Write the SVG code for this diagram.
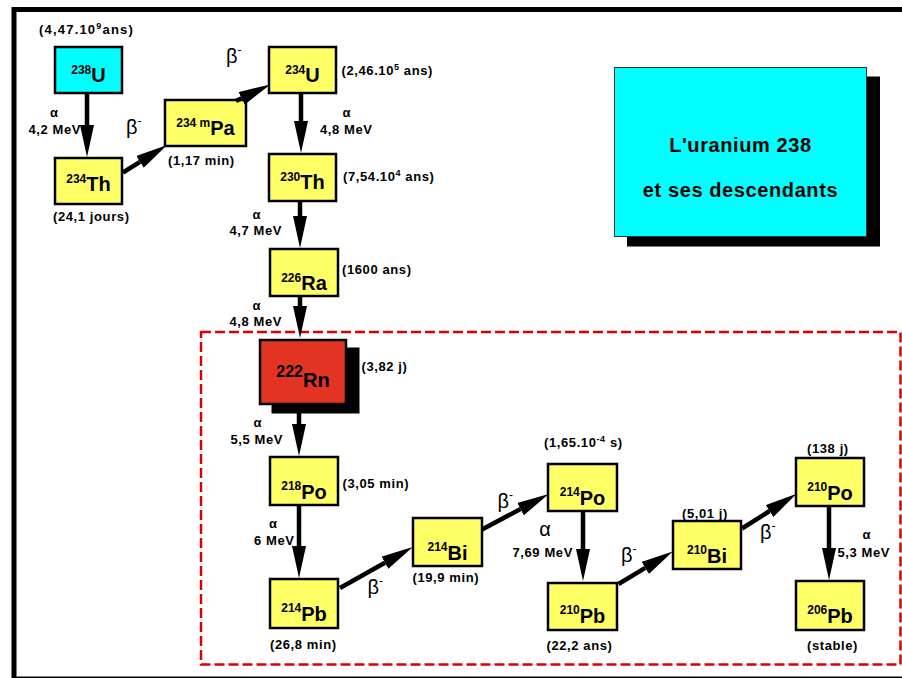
<svg xmlns="http://www.w3.org/2000/svg" width="902" height="678" viewBox="0 0 902 678">
<defs>
<style>
text{font-family:"Liberation Sans",Arial,Helvetica,sans-serif;fill:#000}
.box{stroke:#000;stroke-width:2.5;fill:#FFFF66}
.cy{fill:#00FFFF}
.rn{fill:#E33322}
.nm{font-size:20px;font-weight:bold;text-anchor:middle}
.sup{font-size:12px}
.hl{font-size:13px;font-weight:bold;letter-spacing:0.6px}
.wide{letter-spacing:1.2px}
.hs{font-size:9px}
.al{font-size:13px;font-weight:bold;text-anchor:middle}
.me{font-size:13px;font-weight:bold;letter-spacing:0.6px}
.be{font-size:20px}
.bm{font-size:12px}
.ar{stroke:#000;stroke-width:4.5;fill:none;marker-end:url(#ah)}
</style>
<marker id="ah" viewBox="0 -7 32 14" refX="0" refY="0" markerWidth="32" markerHeight="14" markerUnits="userSpaceOnUse" orient="auto">
<path d="M0,-7 L32,0 L0,7 Z" fill="#000"/>
</marker>
</defs>
<rect x="0" y="0" width="902" height="678" fill="#fff"/>
<rect x="14" y="9.5" width="900" height="669.5" fill="none" stroke="#000" stroke-width="5"/>
<rect x="201" y="332" width="699.5" height="332.5" fill="none" stroke="#DD0000" stroke-width="2.5" stroke-dasharray="10 4"/>

<g id="title">
<rect x="627" y="76.5" width="253" height="170" fill="#000"/>
<rect x="614.5" y="67.5" width="252" height="169" fill="#00FFFF" stroke="#333" stroke-width="1"/>
<text x="740.5" y="152" font-size="20" font-weight="bold" text-anchor="middle" letter-spacing="0.6">L'uranium 238</text>
<text x="740.5" y="197" font-size="20" font-weight="bold" text-anchor="middle" letter-spacing="0.6">et ses descendants</text>
</g>

<g id="n-U238">
<rect class="box cy" x="55" y="47" width="67" height="46" stroke-width="2"/>
<text class="nm" x="88.5" y="82"><tspan class="sup" dy="-8">238</tspan><tspan dy="8">U</tspan></text>
<text class="hl wide" x="39" y="34">(4,47.10<tspan class="hs" dy="-5">9</tspan><tspan dy="5">ans)</tspan></text>
</g>
<g id="n-Th234">
<rect class="box" x="55" y="158" width="67" height="46"/>
<text class="nm" x="88.5" y="191"><tspan class="sup" dy="-8">234</tspan><tspan dy="8">Th</tspan></text>
<text class="hl" x="53" y="221">(24,1 jours)</text>
</g>
<g id="n-Pa234m">
<rect class="box" x="165" y="100" width="81" height="46"/>
<text class="nm" x="205.5" y="135"><tspan class="sup" dy="-8">234 m</tspan><tspan dy="8">Pa</tspan></text>
<text class="hl" x="168" y="165">(1,17 min)</text>
</g>
<g id="n-U234">
<rect class="box" x="269" y="47" width="67" height="46"/>
<text class="nm" x="302.5" y="82"><tspan class="sup" dy="-8">234</tspan><tspan dy="8">U</tspan></text>
<text class="hl" x="341.5" y="75">(2,46.10<tspan class="hs" dy="-5">5</tspan><tspan dy="5"> ans)</tspan></text>
</g>
<g id="n-Th230">
<rect class="box" x="269" y="154" width="67" height="47"/>
<text class="nm" x="302.5" y="188.5"><tspan class="sup" dy="-8">230</tspan><tspan dy="8">Th</tspan></text>
<text class="hl" x="343" y="181">(7,54.10<tspan class="hs" dy="-5">4</tspan><tspan dy="5"> ans)</tspan></text>
</g>
<g id="n-Ra226">
<rect class="box" x="270" y="249" width="68" height="47"/>
<text class="nm" x="304" y="289.5"><tspan class="sup" dy="-8">226</tspan><tspan dy="8">Ra</tspan></text>
<text class="hl" x="342" y="273.5">(1600 ans)</text>
</g>
<g id="n-Rn222">
<rect x="271.5" y="347.5" width="88" height="66" fill="#000"/>
<rect class="box rn" x="260" y="340" width="86" height="64"/>
<text class="nm" x="303" y="387" font-size="26"><tspan font-size="16" dy="-10">222</tspan><tspan dy="10">Rn</tspan></text>
<text class="hl" x="361.5" y="371">(3,82 j)</text>
</g>
<g id="n-Po218">
<rect class="box" x="270" y="457" width="68" height="48"/>
<text class="nm" x="304" y="499"><tspan class="sup" dy="-9">218</tspan><tspan dy="9">Po</tspan></text>
<text class="hl" x="342.5" y="488">(3,05 min)</text>
</g>
<g id="n-Pb214">
<rect class="box" x="270" y="579" width="68" height="49"/>
<text class="nm" x="304" y="621"><tspan class="sup" dy="-9">214</tspan><tspan dy="9">Pb</tspan></text>
<text class="hl" x="270" y="648.5">(26,8 min)</text>
</g>
<g id="n-Bi214">
<rect class="box" x="413" y="518" width="69" height="48"/>
<text class="nm" x="447.5" y="559.5"><tspan class="sup" dy="-9">214</tspan><tspan dy="9">Bi</tspan></text>
<text class="hl" x="412.5" y="582">(19,9 min)</text>
</g>
<g id="n-Po214">
<rect class="box" x="548" y="464" width="69" height="47"/>
<text class="nm" x="582.5" y="504.5"><tspan class="sup" dy="-9">214</tspan><tspan dy="9">Po</tspan></text>
<text class="hl" x="544" y="447">(1,65.10<tspan class="hs" dy="-5">-4</tspan><tspan dy="5"> s)</tspan></text>
</g>
<g id="n-Pb210">
<rect class="box" x="548" y="583" width="69" height="47"/>
<text class="nm" x="582.5" y="623"><tspan class="sup" dy="-9">210</tspan><tspan dy="9">Pb</tspan></text>
<text class="hl" x="546.5" y="650">(22,2 ans)</text>
</g>
<g id="n-Bi210">
<rect class="box" x="673" y="521" width="68" height="48"/>
<text class="nm" x="707" y="562.5"><tspan class="sup" dy="-9">210</tspan><tspan dy="9">Bi</tspan></text>
<text class="hl" x="682" y="518">(5,01 j)</text>
</g>
<g id="n-Po210">
<rect class="box" x="796" y="458" width="68" height="48"/>
<text class="nm" x="830" y="500"><tspan class="sup" dy="-9">210</tspan><tspan dy="9">Po</tspan></text>
<text class="hl" x="807" y="452.5">(138 j)</text>
</g>
<g id="n-Pb206">
<rect class="box" x="796" y="581" width="68" height="49"/>
<text class="nm" x="830" y="623"><tspan class="sup" dy="-9">206</tspan><tspan dy="9">Pb</tspan></text>
<text class="hl" x="807" y="650">(stable)</text>
</g>

<g id="connectors">
<line class="ar" x1="87" y1="94" x2="87" y2="125"/>
<line class="ar" x1="123" y1="172.5" x2="140" y2="161.9"/>
<line class="ar" x1="236" y1="101" x2="241.6" y2="98.3"/>
<line class="ar" x1="301" y1="94" x2="301" y2="121"/>
<line class="ar" x1="300" y1="202" x2="300" y2="216"/>
<line class="ar" x1="300" y1="297" x2="300" y2="306"/>
<line class="ar" x1="299" y1="405" x2="299" y2="424"/>
<line class="ar" x1="299" y1="506" x2="299" y2="546"/>
<line class="ar" x1="340" y1="588" x2="384.9" y2="562.7"/>
<line class="ar" x1="482" y1="529.5" x2="520.5" y2="509.1"/>
<line class="ar" x1="583" y1="512" x2="583" y2="549"/>
<line class="ar" x1="618.5" y1="584" x2="645.3" y2="567.9"/>
<line class="ar" x1="742" y1="528.5" x2="769.6" y2="511"/>
<line class="ar" x1="829" y1="507" x2="829" y2="548"/>

<text class="al" x="54" y="117">α</text>
<text class="me" x="28.5" y="134">4,2 MeV</text>
<text class="al" x="346.5" y="117">α</text>
<text class="me" x="320" y="134">4,8 MeV</text>
<text class="al" x="256.5" y="219">α</text>
<text class="me" x="229.5" y="235">4,7 MeV</text>
<text class="al" x="256.5" y="310">α</text>
<text class="me" x="229.5" y="326">4,8 MeV</text>
<text class="al" x="257.5" y="427">α</text>
<text class="me" x="230.5" y="443.5">5,5 MeV</text>
<text class="al" x="273" y="528">α</text>
<text class="me" x="254" y="545">6 MeV</text>
<text x="545" y="536" font-size="20" text-anchor="middle">α</text>
<text class="me" x="512.5" y="557">7,69 MeV</text>
<text class="al" x="866.5" y="539">α</text>
<text class="me" x="837.5" y="557">5,3 MeV</text>

<text class="be" x="126" y="134">β<tspan class="bm" dy="-9">-</tspan></text>
<text class="be" x="226" y="63">β<tspan class="bm" dy="-9">-</tspan></text>
<text class="be" x="367.5" y="594">β<tspan class="bm" dy="-9">-</tspan></text>
<text class="be" x="497.5" y="508">β<tspan class="bm" dy="-9">-</tspan></text>
<text class="be" x="621" y="562">β<tspan class="bm" dy="-9">-</tspan></text>
<text class="be" x="760" y="539">β<tspan class="bm" dy="-9">-</tspan></text>
</g>
</svg>
